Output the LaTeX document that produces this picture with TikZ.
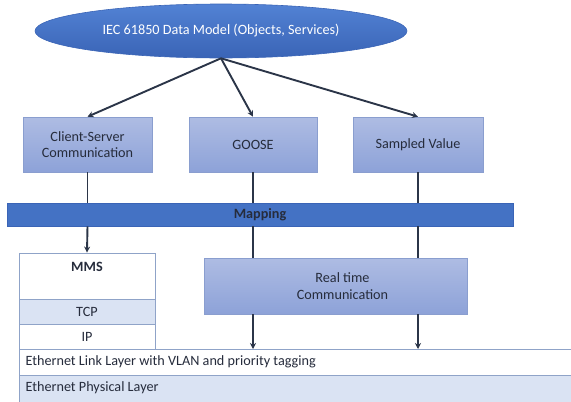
\documentclass[tikz,border=0pt]{standalone}
\usepackage{fontspec}
\setmainfont{Carlito}
\usetikzlibrary{arrows.meta,calc,shapes.geometric}
\definecolor{ellblue}{HTML}{4472C4}
\definecolor{ellblueT}{HTML}{5282D4}
\definecolor{ellblueB}{HTML}{3A64B6}
\definecolor{boxT}{HTML}{AEBCE3}
\definecolor{boxB}{HTML}{8DA2D8}
\definecolor{boxline}{HTML}{8A9ECF}
\definecolor{stackline}{HTML}{8FA3C8}
\definecolor{lightfill}{HTML}{DAE3F3}
\definecolor{txt}{HTML}{262C3C}
\definecolor{arr}{HTML}{2B3548}
\tikzset{
  every node/.style={font=\fontsize{14.2}{16.5}\selectfont, text=txt},
  protobox/.style={rectangle, draw=boxline, line width=0.6pt, top color=boxT, bottom color=boxB, align=center, inner sep=0pt},
  stackbox/.style={rectangle, draw=stackline, line width=0.9pt, inner sep=0pt},
  conn/.style={draw=arr, line width=1.9pt},
  arrowconn/.style={conn, -{Stealth[length=6pt,width=6pt]}}
}
\begin{document}
\begin{tikzpicture}[x=1pt,y=-1pt]
\useasboundingbox (0,0) rectangle (571,402);
\clip (0,0) rectangle (571,402);
% ellipse
\node[ellipse, draw=ellblueB, line width=0.6pt, top color=ellblueT, bottom color=ellblueB, minimum width=372pt, minimum height=54pt, inner sep=0pt, text=white] (dm) at (221,31) {IEC 61850 Data Model (Objects, Services)};
% protocol boxes
\node[protobox, minimum width=129pt, minimum height=55pt] (cs) at (87.5,144.5) {Client-Server\\Communication};
\node[protobox, minimum width=128pt, minimum height=55pt] (goose) at (253,144.5) {GOOSE};
\node[protobox, minimum width=130pt, minimum height=55pt] (sv) at (418,144.5) {Sampled Value};
% mapping
\node[rectangle, draw=ellblueB, line width=0.6pt, fill=ellblue, minimum width=506pt, minimum height=23pt, inner sep=0pt, font=\fontsize{14.2}{16.5}\selectfont\bfseries] (map) at (260,214.5) {Mapping};
% MMS stack
\node[stackbox, fill=white, minimum width=136pt, minimum height=46pt] (mms) at (87,276) {};
\node[font=\fontsize{14.2}{16.5}\selectfont\bfseries] (mmslabel) at (87,267) {MMS};
\node[stackbox, fill=lightfill, minimum width=136pt, minimum height=25pt] (tcp) at (87,311.5) {TCP};
\node[stackbox, fill=white, minimum width=136pt, minimum height=25pt] (ip) at (87,336.5) {IP};
% real time
\node[protobox, minimum width=263pt, minimum height=56pt] (rtc) at (335.5,286) {\hspace*{14pt}Real time\\\hspace*{14pt}Communication};
% ethernet layers
\node[stackbox, fill=white, minimum width=560pt, minimum height=26pt, anchor=north west] (link) at (19,349) {};
\node[anchor=west] (linklabel) at (22,362) {Ethernet Link Layer with VLAN and priority tagging};
\node[stackbox, fill=lightfill, minimum width=560pt, minimum height=30pt, anchor=north west] (phys) at (19,375) {};
\node[anchor=west] (physlabel) at (22,388) {Ethernet Physical Layer};
% connectors
\draw[arrowconn] (dm.south) -- (cs.north);
\draw[arrowconn] (dm.south) -- (goose.north);
\draw[arrowconn] (dm.south) -- (sv.north);
\draw[conn] (cs.south) -- (cs.south |- map.north);
\draw[conn] (goose.south) -- (goose.south |- map.north);
\draw[conn] (sv.south) -- (sv.south |- map.north);
\draw[arrowconn] (cs.south |- map.south) -- (mms.north);
\draw[conn] (goose.south |- map.south) -- (goose.south |- rtc.north);
\draw[conn] (sv.south |- map.south) -- (sv.south |- rtc.north);
\draw[arrowconn] (goose.south |- rtc.south) -- (goose.south |- link.north);
\draw[arrowconn] (sv.south |- rtc.south) -- (sv.south |- link.north);
\end{tikzpicture}
\end{document}
